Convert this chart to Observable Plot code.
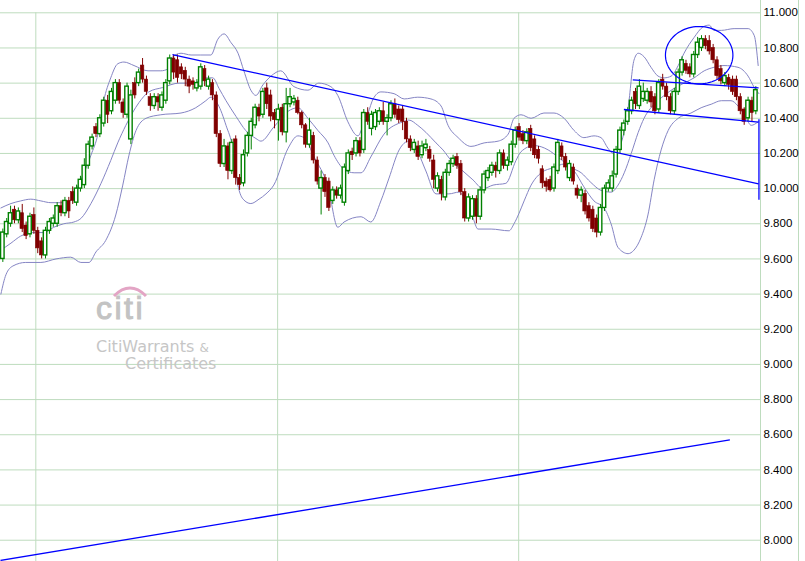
<!DOCTYPE html>
<html><head><meta charset="utf-8">
<script src="https://cdn.jsdelivr.net/npm/d3@7"></script>
<script src="https://cdn.jsdelivr.net/npm/@observablehq/plot@0.6"></script>
<style>
body{margin:0;background:#fff;}
#chart{width:805px;height:561px;}
</style></head><body><div id="chart"></div>
<script>
// ---- candle data (sequential trading days, index 0..194) ----
const open  = [9.60,9.74,9.80,9.88,9.82,9.86,9.79,9.74,9.85,9.76,9.70,9.62,9.76,9.80,9.80,9.90,9.86,9.93,9.98,9.92,
10.00,10.02,10.13,10.24,10.35,10.31,10.37,10.50,10.44,10.50,10.60,10.49,10.42,10.28,10.60,10.60,10.70,10.62,10.52,10.47,
10.52,10.46,10.50,10.61,10.74,10.73,10.69,10.67,10.62,10.61,10.57,10.58,10.68,10.58,10.60,10.53,10.31,10.14,10.24,10.10,
10.28,10.06,10.03,10.20,10.30,10.36,10.46,10.42,10.57,10.53,10.43,10.39,10.46,10.32,10.48,10.49,10.50,10.43,10.36,10.25,
10.30,10.16,10.00,10.06,10.04,9.93,9.99,9.96,9.92,10.10,10.21,10.20,10.27,10.22,10.43,10.34,10.35,10.38,10.44,10.38,
10.40,10.48,10.45,10.45,10.38,10.28,10.22,10.24,10.19,10.23,10.22,10.16,10.00,10.05,9.95,10.09,10.14,10.18,10.14,9.98,
9.83,9.84,9.94,9.84,9.99,10.06,10.09,10.13,10.10,10.20,10.13,10.15,10.25,10.35,10.31,10.27,10.34,10.28,10.22,10.11,
10.04,10.05,10.00,10.10,10.24,10.18,10.06,10.12,10.00,9.96,9.97,9.90,9.88,9.83,9.75,9.89,10.00,10.00,10.08,10.22,
10.33,10.38,10.44,10.55,10.47,10.51,10.50,10.55,10.52,10.45,10.62,10.58,10.52,10.44,10.55,10.66,10.71,10.69,10.65,10.76,
10.80,10.85,10.84,10.80,10.73,10.68,10.60,10.63,10.62,10.62,10.52,10.45,10.40,10.50,10.44];
const high  = [9.77,9.83,9.90,9.90,9.89,9.91,9.81,9.86,9.89,9.78,9.72,9.78,9.83,9.85,9.92,9.93,9.95,9.95,10.01,10.02,
10.07,10.17,10.27,10.31,10.37,10.42,10.52,10.53,10.57,10.62,10.62,10.51,10.60,10.56,10.63,10.68,10.74,10.64,10.54,10.54,
10.54,10.55,10.62,10.76,10.76,10.76,10.71,10.69,10.64,10.63,10.62,10.71,10.70,10.64,10.62,10.55,10.33,10.28,10.26,10.28,
10.30,10.08,10.22,10.32,10.40,10.48,10.48,10.57,10.60,10.56,10.45,10.48,10.48,10.57,10.57,10.53,10.52,10.44,10.37,10.40,
10.32,10.18,10.10,10.08,10.06,10.01,10.01,10.02,10.14,10.22,10.23,10.29,10.29,10.45,10.46,10.44,10.45,10.46,10.49,10.42,
10.50,10.51,10.47,10.47,10.40,10.30,10.28,10.27,10.27,10.28,10.24,10.19,10.09,10.07,10.11,10.16,10.19,10.20,10.16,10.00,
9.97,9.96,9.96,10.01,10.10,10.12,10.15,10.15,10.22,10.22,10.18,10.27,10.35,10.37,10.33,10.34,10.36,10.30,10.24,10.13,
10.06,10.07,10.14,10.28,10.26,10.20,10.16,10.14,10.02,10.01,9.99,9.92,9.90,9.85,9.91,10.02,10.05,10.10,10.24,10.35,
10.39,10.46,10.52,10.57,10.62,10.60,10.57,10.58,10.54,10.62,10.65,10.60,10.54,10.57,10.68,10.75,10.73,10.71,10.78,10.86,
10.87,10.87,10.87,10.82,10.75,10.70,10.66,10.65,10.64,10.64,10.54,10.46,10.52,10.52,10.58];
const low   = [9.58,9.72,9.78,9.80,9.80,9.75,9.71,9.72,9.74,9.63,9.60,9.60,9.74,9.78,9.78,9.84,9.84,9.83,9.91,9.90,
9.98,10.00,10.11,10.22,10.29,10.29,10.35,10.37,10.42,10.48,10.48,10.40,10.40,10.25,10.51,10.58,10.60,10.53,10.44,10.45,
10.44,10.44,10.48,10.59,10.62,10.60,10.62,10.58,10.54,10.56,10.55,10.56,10.58,10.56,10.50,10.29,10.12,10.12,10.05,10.08,
10.02,9.99,10.01,10.18,10.22,10.34,10.38,10.40,10.45,10.38,10.34,10.27,10.30,10.26,10.46,10.47,10.42,10.34,10.23,10.23,
10.14,10.02,9.85,9.95,9.87,9.91,9.94,9.94,9.90,10.08,10.16,10.18,10.18,10.20,10.36,10.30,10.33,10.36,10.36,10.30,
10.38,10.40,10.37,10.33,10.26,10.21,10.20,10.16,10.17,10.21,10.15,10.00,9.98,9.93,9.93,10.07,10.12,10.11,9.96,9.81,
9.81,9.82,9.80,9.82,9.97,10.04,10.07,10.06,10.08,10.11,10.10,10.13,10.23,10.27,10.25,10.25,10.21,10.17,10.14,10.00,
9.98,9.98,9.98,10.08,10.16,10.10,10.04,10.02,9.94,9.92,9.85,9.81,9.75,9.72,9.73,9.87,9.98,9.98,10.06,10.20,
10.30,10.36,10.42,10.45,10.45,10.49,10.48,10.46,10.42,10.43,10.56,10.50,10.42,10.42,10.53,10.64,10.65,10.63,10.63,10.74,
10.78,10.79,10.76,10.71,10.62,10.59,10.58,10.56,10.53,10.50,10.42,10.36,10.38,10.38,10.42];
const close = [9.75,9.81,9.86,9.82,9.87,9.77,9.73,9.84,9.76,9.66,9.62,9.76,9.81,9.83,9.90,9.86,9.93,9.87,9.93,10.00,
10.05,10.13,10.25,10.29,10.31,10.40,10.50,10.42,10.55,10.60,10.50,10.43,10.58,10.53,10.53,10.66,10.62,10.55,10.47,10.52,
10.49,10.53,10.60,10.74,10.66,10.63,10.65,10.62,10.58,10.59,10.60,10.69,10.61,10.62,10.53,10.31,10.14,10.24,10.10,10.26,
10.06,10.02,10.19,10.30,10.38,10.46,10.41,10.55,10.48,10.41,10.39,10.45,10.32,10.48,10.52,10.51,10.43,10.36,10.25,10.33,
10.16,10.04,10.06,9.98,9.89,9.99,9.96,10.00,10.12,10.20,10.19,10.27,10.20,10.43,10.38,10.42,10.43,10.44,10.38,10.40,
10.48,10.42,10.39,10.38,10.28,10.23,10.26,10.18,10.24,10.25,10.17,10.05,10.07,9.97,10.09,10.14,10.17,10.13,9.98,9.83,
9.95,9.94,9.84,9.99,10.08,10.10,10.13,10.10,10.20,10.13,10.16,10.25,10.33,10.29,10.27,10.32,10.23,10.19,10.17,10.03,
10.01,9.99,10.12,10.26,10.18,10.12,10.14,10.04,9.96,9.99,9.87,9.83,9.77,9.75,9.89,10.00,10.03,10.07,10.22,10.33,
10.37,10.44,10.50,10.48,10.58,10.55,10.55,10.49,10.44,10.60,10.58,10.52,10.44,10.55,10.66,10.73,10.67,10.65,10.76,10.83,
10.85,10.81,10.78,10.73,10.64,10.61,10.64,10.59,10.55,10.52,10.44,10.38,10.50,10.43,10.56];

// ---- Bollinger bands: [day index, value] ----
const upperBand = [[-0.5,9.89],[2.1,9.915],[4.6,9.93],[7.2,9.94],[9.8,9.93],[12.4,9.92],[14.9,9.92],[16.8,9.92],[18.3,9.97],[20.1,10.05],[22.7,10.19],[24.5,10.31],[26.0,10.50],[27.8,10.63],[29.6,10.71],[31.2,10.72],[33.8,10.70],[37.4,10.67],[40.7,10.67],[42.5,10.68],[43.3,10.74],[45.9,10.77],[48.5,10.76],[51.0,10.76],[53.6,10.76],[55.4,10.85],[57.0,10.88],[58.8,10.83],[60.6,10.77],[62.1,10.67],[63.9,10.56],[65.2,10.53],[67.0,10.59],[69.1,10.64],[71.6,10.67],[75.0,10.58],[78.6,10.56],[81.4,10.60],[84.5,10.58],[86.3,10.53],[88.9,10.38],[91.5,10.30],[92.8,10.36],[94.1,10.43],[95.4,10.51],[97.4,10.55],[100.8,10.54],[103.4,10.51],[106.9,10.52],[110.3,10.51],[112.9,10.47],[114.7,10.36],[117.3,10.29],[120.6,10.24],[124.0,10.26],[127.6,10.27],[130.2,10.31],[131.7,10.40],[133.5,10.42],[136.1,10.40],[139.4,10.43],[142.0,10.43],[144.6,10.40],[147.2,10.33],[149.7,10.29],[152.3,10.30],[154.1,10.29],[155.9,10.23],[157.2,10.20],[159.3,10.26],[161.1,10.46],[162.6,10.73],[163.7,10.77],[165.2,10.75],[167.0,10.69],[168.8,10.64],[170.4,10.63],[172.2,10.64],[174.0,10.70],[175.5,10.77],[178.1,10.86],[180.4,10.92],[182.0,10.93],[183.2,10.90],[185.1,10.90],[188.4,10.91],[192.0,10.91],[193.6,10.87],[194.6,10.70]];
const middleBand = [[-0.5,9.65],[2.1,9.69],[4.6,9.73],[8.0,9.75],[10.6,9.75],[13.1,9.78],[15.7,9.80],[18.3,9.81],[20.1,9.83],[22.7,9.915],[25.3,10.03],[27.8,10.16],[29.6,10.26],[31.7,10.36],[35.1,10.49],[37.6,10.55],[41.2,10.575],[45.4,10.60],[49.0,10.60],[52.3,10.63],[54.1,10.63],[55.7,10.57],[57.5,10.50],[60.1,10.41],[62.6,10.33],[65.2,10.285],[66.5,10.27],[69.8,10.35],[73.5,10.44],[76.0,10.46],[78.6,10.40],[81.2,10.33],[83.8,10.26],[85.3,10.19],[87.9,10.11],[90.5,10.09],[92.3,10.09],[94.8,10.18],[98.2,10.31],[103.1,10.38],[104.6,10.39],[106.9,10.36],[109.0,10.32],[111.6,10.26],[113.4,10.22],[115.5,10.16],[117.5,10.12],[121.1,10.05],[123.7,10.00],[126.3,10.02],[129.6,10.03],[132.2,10.16],[133.5,10.21],[136.9,10.245],[140.5,10.22],[143.0,10.18],[146.4,10.12],[149.0,10.09],[151.5,10.035],[154.1,9.99],[156.7,9.98],[158.5,10.02],[160.1,10.09],[161.9,10.20],[163.7,10.32],[165.2,10.40],[167.8,10.48],[170.4,10.53],[172.9,10.57],[175.5,10.60],[178.1,10.63],[180.7,10.67],[183.2,10.69],[185.8,10.70],[189.4,10.69],[192.0,10.64],[193.6,10.575],[194.8,10.54]];
const lowerBand = [[-0.5,9.40],[0.8,9.51],[2.6,9.56],[5.9,9.58],[9.8,9.58],[13.7,9.60],[17.5,9.61],[20.1,9.58],[22.2,9.58],[24.0,9.64],[26.5,9.705],[29.1,9.85],[30.9,10.02],[32.5,10.19],[34.3,10.33],[36.9,10.40],[40.7,10.42],[45.9,10.43],[49.7,10.46],[52.3,10.50],[53.6,10.52],[55.4,10.48],[57.5,10.36],[59.3,10.22],[60.3,10.05],[61.9,9.94],[63.9,9.915],[66.0,9.94],[67.8,9.97],[69.8,10.02],[73.5,10.23],[76.0,10.30],[77.6,10.29],[80.2,10.18],[83.8,10.01],[86.3,9.78],[87.9,9.81],[92.3,9.84],[94.8,9.81],[97.4,9.93],[99.5,10.06],[102.1,10.22],[104.6,10.27],[106.4,10.23],[109.0,10.10],[111.6,9.97],[114.9,9.97],[117.5,9.98],[119.3,9.93],[121.1,9.835],[122.4,9.77],[125.8,9.77],[130.4,9.76],[131.7,9.80],[133.0,9.86],[134.3,9.93],[136.1,10.02],[138.7,10.09],[142.0,10.12],[144.6,10.14],[147.2,10.10],[149.7,10.01],[152.3,9.93],[154.9,9.89],[156.7,9.80],[158.5,9.665],[161.1,9.63],[162.6,9.65],[164.4,9.72],[166.2,9.85],[167.8,10.05],[169.6,10.22],[171.4,10.33],[174.0,10.40],[177.3,10.43],[179.9,10.46],[182.5,10.48],[185.1,10.50],[187.6,10.50],[189.4,10.47],[191.5,10.40],[192.8,10.36],[194.6,10.38]];

// ---- drawn trend lines [x1 index, y1 value, x2 index, y2 value] ----
const trendLines = [
  [43.7, 10.762, 194.7, 10.027],
  [162.3, 10.619, 194.7, 10.573],
  [160.0, 10.450, 194.7, 10.378],
  [194.8, 10.395, 194.8, 9.936],
  [-0.6, 7.885, 187.3, 8.571]
];
// circled top: centre index, centre value, half-width (days), half-height (value)
const circledTop = [179.4, 10.759, 8.69, 0.163];

// ---- axes ----
const yTicks = [8.0,8.2,8.4,8.6,8.8,9.0,9.2,9.4,9.6,9.8,10.0,10.2,10.4,10.6,10.8,11.0];
const periodBreaks = [8.5, 70.8, 132.9];   // vertical separators (day index)
const xDomain = [-0.6, 195.2];
const yDomain = [7.879, 11.070];

const GRID = "#bedcbe", GREEN = "#008000", RED = "#800000", BAND = "#8585c4", BLUE = "#0000ff";

const candles = close.map((c, i) => ({i, o: open[i], h: high[i], l: low[i], c}));
const ups = candles.filter(d => d.c >= d.o);
const downs = candles.filter(d => d.c < d.o);
const bands = [upperBand, middleBand, lowerBand];
const lines = trendLines.map(([x1, y1, x2, y2]) => ({x1, y1, x2, y2}));
const [ecx, ecy, erx, ery] = circledTop;
const ellipsePts = d3.range(0, 361, 4).map(a => ({x: ecx + erx * Math.cos(a * Math.PI / 180), y: ecy + ery * Math.sin(a * Math.PI / 180)}));

const chart = Plot.plot({
  width: 805, height: 561,
  marginLeft: 0, marginRight: 45, marginTop: 0, marginBottom: 0,
  x: {domain: xDomain, axis: null},
  y: {domain: yDomain, axis: null},
  style: {background: "white", fontFamily: "Liberation Sans, Arial, sans-serif"},
  marks: [
    Plot.ruleY(yTicks, {stroke: GRID, strokeWidth: 1}),
    Plot.ruleX(periodBreaks, {y1: 11.0, y2: yDomain[0], stroke: GRID, strokeWidth: 1}),
    Plot.ruleX([xDomain[1]], {stroke: GRID, strokeWidth: 1}),
    Plot.ruleX([xDomain[1]], {stroke: GRID, strokeWidth: 1, dx: 38}),
    Plot.axisY({anchor: "right", ticks: yTicks, tickSize: 0, tickPadding: 3, fontSize: 11.5,
      tickFormat: d => d.toFixed(3), fill: "#000"}),
    ...bands.map(b => Plot.line(b, {x: d => d[0], y: d => d[1], stroke: BAND, strokeWidth: 1, curve: "monotone-x"})),
    Plot.ruleX(ups, {x: "i", y1: "l", y2: "h", stroke: GREEN, strokeWidth: 1}),
    Plot.ruleX(downs, {x: "i", y1: "l", y2: "h", stroke: RED, strokeWidth: 1}),
    Plot.rect(downs, {x1: d => d.i - 0.45, x2: d => d.i + 0.45, y1: "o", y2: "c", fill: RED, stroke: RED, strokeWidth: 0.6}),
    Plot.rect(ups, {x1: d => d.i - 0.45, x2: d => d.i + 0.45, y1: "o", y2: "c", fill: "white", stroke: GREEN, strokeWidth: 1.4}),
    Plot.link(lines, {x1: "x1", y1: "y1", x2: "x2", y2: "y2", stroke: BLUE, strokeWidth: 1.3}),
    Plot.line(ellipsePts, {x: "x", y: "y", stroke: BLUE, strokeWidth: 1.2, curve: "linear"})
  ]
});

// watermark (logo text), placed behind the data marks
const firstLine = chart.querySelector("g[aria-label='line']");
const wmNode = document.createElementNS("http://www.w3.org/2000/svg", "g");
if (firstLine) chart.insertBefore(wmNode, firstLine); else chart.appendChild(wmNode);
const wm = d3.select(wmNode).attr("pointer-events", "none").attr("text-anchor", "start");
wm.append("path").attr("d", "M114,296 Q130,280 146,296").attr("fill", "none").attr("stroke", "#e3a5c5").attr("stroke-width", 3);
wm.append("text").attr("x", 96).attr("y", 319).attr("text-anchor", "start").text("citi")
  .attr("font-family", "Liberation Sans, Arial, sans-serif").attr("font-size", 32)
  .attr("letter-spacing", 2.5).attr("fill", "#c3c3c3").attr("stroke", "#c3c3c3").attr("stroke-width", 1);
wm.append("text").attr("x", 96).attr("y", 352).attr("text-anchor", "start")
  .attr("font-family", "DejaVu Sans, Verdana, sans-serif").attr("font-size", 16).attr("fill", "#c6c6c6")
  .call(t => { t.append("tspan").text("CitiWarrants "); t.append("tspan").attr("font-size", 12).text("&"); });
wm.append("text").attr("x", 125).attr("y", 369).attr("text-anchor", "start").text("Certificates")
  .attr("font-family", "DejaVu Sans, Verdana, sans-serif").attr("font-size", 16).attr("fill", "#c6c6c6");

document.getElementById("chart").appendChild(chart);
</script>
</body></html>
